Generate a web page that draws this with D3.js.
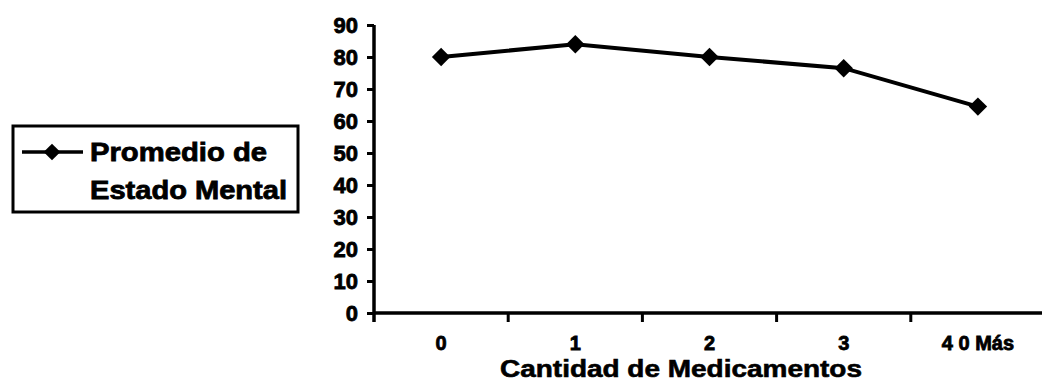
<!DOCTYPE html>
<html><head><meta charset="utf-8">
<script src="https://cdn.jsdelivr.net/npm/d3@7"></script>
<style>
body{margin:0;background:#fff;}
text{font-family:"Liberation Sans",Arial,sans-serif;font-weight:bold;fill:#000;}
</style></head>
<body><svg id="c" width="1042" height="383"></svg>
<script>
const categories = ["0","1","2","3","4 0 Más"];
const values = [80, 84, 80, 76.5, 64.5];
const yTicks = [0,10,20,30,40,50,60,70,80,90];
const seriesName = ["Promedio de","Estado Mental"];
const xTitle = "Cantidad de Medicamentos";

const svg = d3.select("#c");
const x0 = 374, x1 = 1045, yTop = 25, yBot = 313;
const x = d3.scaleBand().domain(categories).range([x0, x1]);
const y = d3.scaleLinear().domain([0, 90]).range([yBot, yTop]);
const FF = "'Liberation Sans',Arial,sans-serif";

// Y axis
const ya = svg.append("g").attr("transform", `translate(${x0},0)`)
  .call(d3.axisLeft(y).tickValues(yTicks).tickSize(7).tickPadding(9));
ya.select(".domain").attr("stroke-width", 3.5).attr("d", `M0,${yTop}V${yBot+9}`);
ya.selectAll(".tick line").attr("stroke-width", 3);
ya.selectAll(".tick text").style("font-size", "22px").style("font-family", FF)
  .style("font-weight", "bold").attr("stroke", "#000").attr("stroke-width", 0.8);

// X axis
const xa = svg.append("g").attr("transform", `translate(0,${yBot})`)
  .call(d3.axisBottom(x).tickSize(0).tickPadding(23));
xa.select(".domain").attr("stroke-width", 3.5).attr("d", `M${x0},0H${x1}`);
xa.selectAll(".tick text").style("font-size", "20px").style("font-family", FF)
  .style("font-weight", "bold").attr("stroke", "#000").attr("stroke-width", 0.8);
// boundary ticks
xa.selectAll(".btick").data(categories.slice(1)).enter().append("line")
  .attr("x1", d => x(d)).attr("x2", d => x(d)).attr("y1", 0).attr("y2", 9)
  .attr("stroke", "#000").attr("stroke-width", 3);

// line
const cx = d => x(d) + x.bandwidth()/2;
const line = d3.line().x((d,i) => cx(categories[i])).y(d => y(d));
svg.append("path").datum(values).attr("d", line).attr("fill", "none")
  .attr("stroke", "#000").attr("stroke-width", 4);
svg.selectAll(".pt").data(values).enter().append("path")
  .attr("d", d3.symbol().type(d3.symbolSquare).size(170))
  .attr("transform", (d,i) => `translate(${cx(categories[i])},${y(d)}) rotate(45)`)
  .attr("fill", "#000");

// x title
svg.append("text").attr("x", 681).attr("y", 377).attr("text-anchor", "middle")
  .style("font-size", "24px").attr("textLength", 362).attr("lengthAdjust", "spacingAndGlyphs")
  .attr("stroke", "#000").attr("stroke-width", 0.6).text(xTitle);

// legend
const lg = svg.append("g");
lg.append("rect").attr("x", 13).attr("y", 126).attr("width", 285).attr("height", 86)
  .attr("fill", "none").attr("stroke", "#000").attr("stroke-width", 3);
lg.append("line").attr("x1", 22).attr("x2", 83).attr("y1", 152).attr("y2", 152)
  .attr("stroke", "#000").attr("stroke-width", 3.5);
lg.append("path").attr("d", d3.symbol().type(d3.symbolSquare).size(140))
  .attr("transform", "translate(52,152) rotate(45)").attr("fill", "#000");
lg.selectAll(".lt").data(seriesName).enter().append("text")
  .attr("x", 90).attr("y", (d,i) => 161 + i*38)
  .style("font-size", "26px").attr("textLength", (d,i) => i === 0 ? 177 : 197)
  .attr("lengthAdjust", "spacingAndGlyphs")
  .attr("stroke", "#000").attr("stroke-width", 0.8).text(d => d);
</script></body></html>
